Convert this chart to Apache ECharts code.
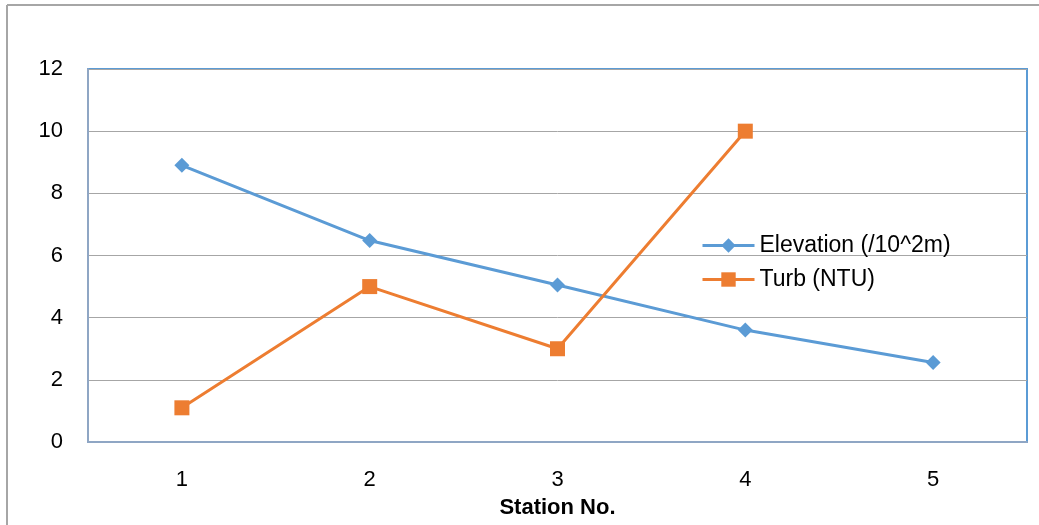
<!DOCTYPE html>
<html>
<head>
<meta charset="utf-8">
<script src="https://cdn.jsdelivr.net/npm/echarts@6/dist/echarts.min.js"></script>
<style>
html,body{margin:0;padding:0;background:#fff;}
#c{width:1039px;height:525px;}
</style>
</head>
<body>
<div id="c"></div>
<script>
const categories = ['1', '2', '3', '4', '5'];
const elevation = [8.9, 6.48, 5.05, 3.6, 2.56];
const turb = [1.1, 5, 3, 10, null];
const seriesNames = ['Elevation (/10^2m)', 'Turb (NTU)'];
const xAxisName = 'Station No.';

const FONT = 'Liberation Sans';
const chart = echarts.init(document.getElementById('c'), null, {renderer: 'canvas'});
chart.setOption({
  animation: false,
  backgroundColor: '#ffffff',
  textStyle: {fontFamily: FONT, color: '#000'},
  graphic: [
    {type: 'line', shape: {x1: 7, y1: 5, x2: 1039, y2: 5}, style: {stroke: '#a6a6a6', lineWidth: 2}},
    {type: 'line', shape: {x1: 7, y1: 5, x2: 7, y2: 525}, style: {stroke: '#a6a6a6', lineWidth: 2}}
  ],
  grid: {left: 88, top: 69, right: 12, bottom: 83, show: true, borderColor: '#5b9bd5', borderWidth: 2, containLabel: false},
  legend: {
    orient: 'vertical',
    left: 696,
    top: 229,
    padding: 5,
    itemWidth: 52,
    itemHeight: 18,
    itemGap: 11,
    lineStyle: {width: 3},
    textStyle: {fontFamily: FONT, fontSize: 23, color: '#000'},
    data: seriesNames
  },
  xAxis: {
    type: 'category',
    data: categories,
    boundaryGap: true,
    axisLine: {show: true, lineStyle: {color: '#8fa6c4', width: 2}},
    axisTick: {show: false},
    axisLabel: {fontFamily: FONT, fontSize: 22, color: '#000', margin: 27},
    name: xAxisName,
    nameLocation: 'middle',
    nameGap: 55,
    nameTextStyle: {fontFamily: FONT, fontSize: 22, fontWeight: 'bold', color: '#000'},
    splitLine: {show: false}
  },
  yAxis: {
    type: 'value',
    min: 0,
    max: 12,
    interval: 2,
    axisLine: {show: true, lineStyle: {color: '#8fa6c4', width: 2}},
    axisTick: {show: false},
    axisLabel: {fontFamily: FONT, fontSize: 22, color: '#000', margin: 25},
    splitLine: {show: true, lineStyle: {color: '#a6a6a6', width: 1}}
  },
  series: [
    {
      name: seriesNames[0],
      type: 'line',
      data: elevation,
      symbol: 'diamond',
      symbolSize: 15,
      lineStyle: {color: '#5b9bd5', width: 3},
      itemStyle: {color: '#5b9bd5'},
      z: 3
    },
    {
      name: seriesNames[1],
      type: 'line',
      data: turb,
      symbol: 'rect',
      symbolSize: 15,
      lineStyle: {color: '#ed7d31', width: 3},
      itemStyle: {color: '#ed7d31'},
      z: 4
    }
  ]
});
</script>
</body>
</html>
